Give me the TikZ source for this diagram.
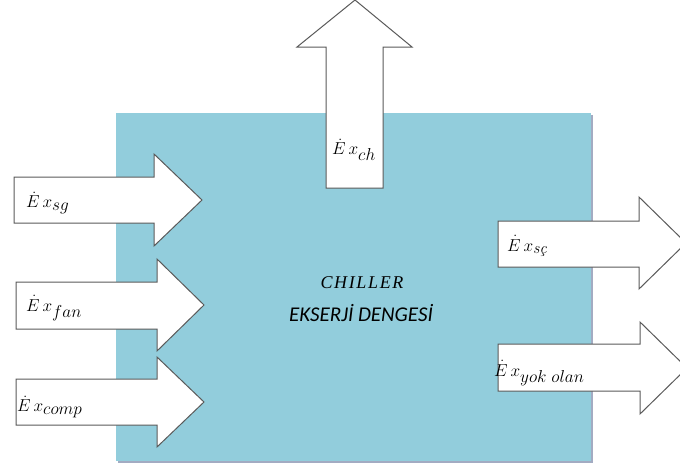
\documentclass[tikz,border=0pt]{standalone}
\usepackage{amsmath}
\usepackage{fontspec}
\newfontfamily\labelsans{Carlito}
\newfontfamily\labelserif{Liberation Serif}[LetterSpace=9]
\definecolor{boxblue}{HTML}{92CDDC}
\definecolor{boxshade}{HTML}{A3ABC2}
\definecolor{arrowline}{HTML}{5A5A5A}
% exergy-rate symbol with an enlarged subscript
\newcommand{\exrate}[1]{$\dot{E}\,x_{\mbox{\fontsize{16}{16}\selectfont #1}}$}
\begin{document}
\begin{tikzpicture}[x=1pt,y=-1pt,
  blockarrow/.style={draw=arrowline,line width=1pt,fill=white,line join=miter},
  flowlabel/.style={inner sep=0pt,anchor=west,font=\fontsize{18}{21}\selectfont},
  titletext/.style={inner sep=0pt}]
\useasboundingbox (0,0) rectangle (680,466);
% control volume with its thin shadow
\fill[boxshade] (118,115) rectangle (593,463);
\fill[boxblue] (116,113) rectangle (591,461);
% incoming exergy streams
\draw[blockarrow] (14,177) -- (154,177) -- (154,154) -- (202,200) -- (154,246) -- (154,223) -- (14,223) -- cycle;
\draw[blockarrow] (16,282) -- (157,282) -- (157,259) -- (204,305) -- (157,351) -- (157,329) -- (16,329) -- cycle;
\draw[blockarrow] (16,379) -- (157,379) -- (157,357) -- (204,402) -- (157,447) -- (157,425) -- (16,425) -- cycle;
% chilled-water exergy, upward
\draw[blockarrow] (326,188) -- (326,47) -- (297,47) -- (355,0) -- (412,47) -- (383,47) -- (383,188) -- cycle;
% outgoing streams
\draw[blockarrow] (498,221) -- (639,221) -- (639,197) -- (686,243) -- (639,289) -- (639,267) -- (498,267) -- cycle;
\draw[blockarrow] (498,344) -- (640,344) -- (640,322) -- (687,368) -- (640,414) -- (640,391) -- (498,391) -- cycle;
% labels
\node[flowlabel] (sg) at (26,203) {\exrate{$sg$}};
\node[flowlabel] (fan) at (26,308) {\exrate{$fan$}};
\node[flowlabel] (comp) at (17,407) {\exrate{$comp$}};
\node[flowlabel] (ch) at (332,150) {\exrate{$ch$}};
\node[flowlabel] (sc) at (507,246) {\exrate{\itshape sç}};
\node[flowlabel] (yok) at (494,373) {\exrate{$yok\ olan$}};
\node[titletext,font=\labelserif\itshape\fontsize{18}{21}\selectfont] (title) at (362,283) {CHILLER};
\node[titletext,font=\labelsans\itshape\fontsize{21}{24}\selectfont] (sub) at (361,313) {EKSERJİ DENGESİ};
\end{tikzpicture}
\end{document}
